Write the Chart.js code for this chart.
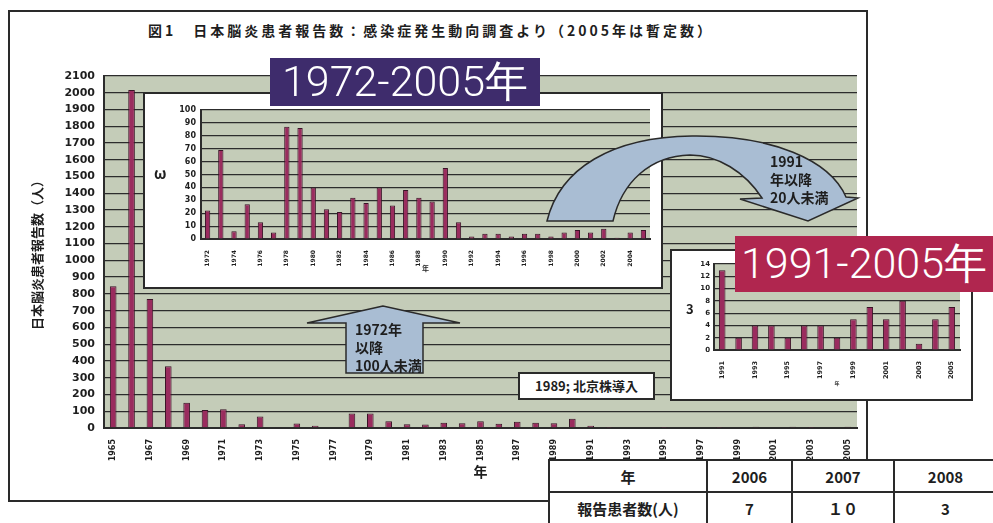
<!DOCTYPE html>
<html>
<head>
<meta charset="utf-8">
<script src="https://cdn.jsdelivr.net/npm/chart.js@4.4.0/dist/chart.umd.min.js"></script>
<style>
  body { margin: 0; background: #fff; width: 993px; height: 523px; overflow: hidden; position: relative;
         font-family: "Noto Sans CJK JP", sans-serif; color: #1e1e1e; }
  .abs { position: absolute; }
  #frame { left: 8px; top: 10px; width: 856px; height: 488px; border: 2px solid #2a2a2a; }
  #title { left: 148px; top: 20px; font-size: 14px; font-weight: bold; letter-spacing: 3px; white-space: nowrap; }
  #mainBox { left: 0; top: 0; width: 870px; height: 500px; }
  #inset1 { left: 143px; top: 92px; width: 516px; height: 193px; background: #fff; border: 2px solid #2a2a2a; }
  #inset2 { left: 670px; top: 249px; width: 299px; height: 148px; background: #fff; border: 2px solid #2a2a2a; }
  .lab { color: #fff; font-family: "Roboto", "Liberation Sans", sans-serif; font-weight: 300;
         display: flex; align-items: center; justify-content: center; white-space: nowrap; }
  #lab1 { left: 270px; top: 58px; width: 270px; height: 48px; background: #3e2c6c; font-size: 43px; }
  #lab2 { left: 735px; top: 236px; width: 258px; height: 56px; background: #b0264f; font-size: 43px; }
  .note { font-size: 14px; font-weight: bold; line-height: 18px; white-space: nowrap; }
  #peking { left: 518px; top: 372px; width: 133px; height: 24px; background: #fff; border: 2px solid #2a2a2a;
            font-size: 13px; font-weight: bold; line-height: 24px; text-align: center; white-space: nowrap; }
  #arrows { left: 0; top: 0; }
  table { position: absolute; left: 548px; top: 459px; width: 462px; table-layout: fixed; border-collapse: collapse;
          font-weight: bold; font-size: 15px; background: #fff; }
  td { border: 2px solid #2a2a2a; height: 30px; text-align: center; padding: 0; }
</style>
</head>
<body>
<div id="frame" class="abs"></div>
<div id="title" class="abs">図1　日本脳炎患者報告数：感染症発生動向調査より（2005年は暫定数）</div>
<div id="mainBox" class="abs"><canvas id="mainChart"></canvas></div>
<div id="inset1" class="abs"><canvas id="chart1"></canvas></div>
<div class="abs note" style="left:154px;top:164px;font-size:15px;">ω</div>
<div id="inset2" class="abs"><canvas id="chart2"></canvas></div>
<div class="abs note" style="left:686px;top:300px;font-size:13px;">3</div>
<div id="lab1" class="abs lab">1972-2005年</div>
<div id="lab2" class="abs lab">1991-2005年</div>

<svg id="arrows" class="abs" width="993" height="523">
  <polygon points="383,306 307,323 346,323 346,373 423,373 423,323 460,323"
           fill="#a9bdd3" stroke="#2a2a2a" stroke-width="1.5"/>
  <path d="M547,221 C560,168 612,137 692,136 C772,135 830,160 846,197 L858,198 L808,221 L740,199 L762,198
           C745,172 718,155 690,155 C650,156 622,182 613,221 Z"
        fill="#a9bdd3" stroke="#2a2a2a" stroke-width="1.5"/>
</svg>
<div class="abs note" style="left:355px;top:320px;">1972年<br>以降<br>100人未満</div>
<div class="abs note" style="left:770px;top:152px;">1991<br>年以降<br>20人未満</div>
<div id="peking" class="abs">1989; 北京株導入</div>

<table>
  <colgroup><col style="width:158px"><col style="width:85px"><col style="width:102px"><col style="width:117px"></colgroup>
  <tr><td>年</td><td>2006</td><td>2007</td><td style="padding-right:14px">2008</td></tr>
  <tr><td>報告患者数(人)</td><td>7</td><td>１０</td><td style="padding-right:14px">3</td></tr>
</table>

<script>
// 日本脳炎患者報告数 1965-2005
const years = [];
for (let y = 1965; y <= 2005; y++) years.push(String(y));

const cases = [845, 2017, 770, 368, 150, 107, 112, 22, 69, 6,
               27, 13, 5, 87, 86, 40, 23, 21, 32, 28,
               40, 26, 38, 32, 29, 55, 13, 2, 4, 4,
               2, 4, 4, 2, 5, 7, 5, 8, 1, 5, 7];

const mainTicks = [0, 2100, 100];
const inset1Ticks = [0, 100, 10];
const inset2Ticks = [0, 14, 2];

const barFill = '#9a2c5e';
const barLine = '#3a1427';
const plotColor = '#c4ccb8';
const gridColor = '#2c2c2c';

Chart.defaults.font.family = "'DejaVu Sans', sans-serif";
Chart.defaults.color = '#1e1e1e';
Chart.defaults.animation = false;

const plotBg = {
  id: 'plotBg',
  beforeDraw(chart) {
    const { ctx, chartArea: a } = chart;
    ctx.save();
    ctx.fillStyle = plotColor;
    ctx.fillRect(a.left, a.top, a.right - a.left, a.bottom - a.top);
    ctx.restore();
  }
};

function makeBars(canvasId, labels, values, cfg) {
  return new Chart(document.getElementById(canvasId), {
    type: 'bar',
    data: {
      labels: labels,
      datasets: [{
        data: values,
        backgroundColor: barFill,
        borderColor: barLine,
        borderWidth: 1,
        barPercentage: cfg.barPct,
        categoryPercentage: 1
      }]
    },
    options: {
      responsive: true,
      maintainAspectRatio: false,
      layout: { padding: cfg.padding },
      plugins: { legend: { display: false }, tooltip: { enabled: false } },
      scales: {
        x: {
          grid: { display: false },
          border: { color: gridColor, width: 2 },
          ticks: {
            autoSkip: false, minRotation: 90, maxRotation: 90, padding: 3,
            font: { size: cfg.xFont, weight: 'bold' },
            callback: (v, i) => (i % 2 === 0 ? labels[i] : '')
          },
          title: cfg.xTitle,
          afterFit: s => { s.height = cfg.xHeight; }
        },
        y: {
          min: cfg.yTicks[0], max: cfg.yTicks[1],
          grid: { color: gridColor, lineWidth: cfg.gridWidth, drawTicks: false },
          border: { color: gridColor, width: 2 },
          ticks: {
            stepSize: cfg.yTicks[2], padding: cfg.yPad, font: { size: cfg.yFont, weight: 'bold' },
            callback: v => String(v)
          },
          title: cfg.yTitle || { display: false },
          afterFit: s => { s.width = cfg.yWidth; }
        }
      }
    },
    plugins: [plotBg]
  });
}

// 全体 1965-2005
makeBars('mainChart', years, cases, {
  barPct: 0.36, padding: { top: 76, left: 0, right: 13, bottom: 0 },
  xFont: 8, xHeight: 72, yTicks: mainTicks, yFont: 11, yPad: 9, yWidth: 104, gridWidth: 1.3,
  xTitle: { display: true, text: '年', font: { family: "'Noto Sans CJK JP'", size: 14, weight: 'bold' }, padding: { top: 0, bottom: 20 } },
  yTitle: { display: true, text: '日本脳炎患者報告数（人）', font: { family: "'Noto Sans CJK JP'", size: 13, weight: 'bold' }, padding: { top: 29 } }
});

// 1972-2005
const y1 = years.slice(7), c1 = cases.slice(7);
makeBars('chart1', y1, c1, {
  barPct: 0.4, padding: { top: 16, left: 0, right: 11, bottom: 0 },
  xFont: 6, xHeight: 48, yTicks: inset1Ticks, yFont: 8, yPad: 5, yWidth: 56, gridWidth: 1.2,
  xTitle: { display: true, text: '年', font: { family: "'Noto Sans CJK JP'", size: 7, weight: 'bold' }, padding: { top: 0, bottom: 14 } }
});

// 1991-2005
const y2 = years.slice(26), c2 = cases.slice(26);
makeBars('chart2', y2, c2, {
  barPct: 0.4, padding: { top: 13, left: 0, right: 11, bottom: 0 },
  xFont: 6.5, xHeight: 49, yTicks: inset2Ticks, yFont: 7, yPad: 4, yWidth: 42, gridWidth: 1.2,
  xTitle: { display: true, text: '年', font: { family: "'Noto Sans CJK JP'", size: 5, weight: 'bold' }, padding: { top: 0, bottom: 13 } }
});
</script>
</body>
</html>
